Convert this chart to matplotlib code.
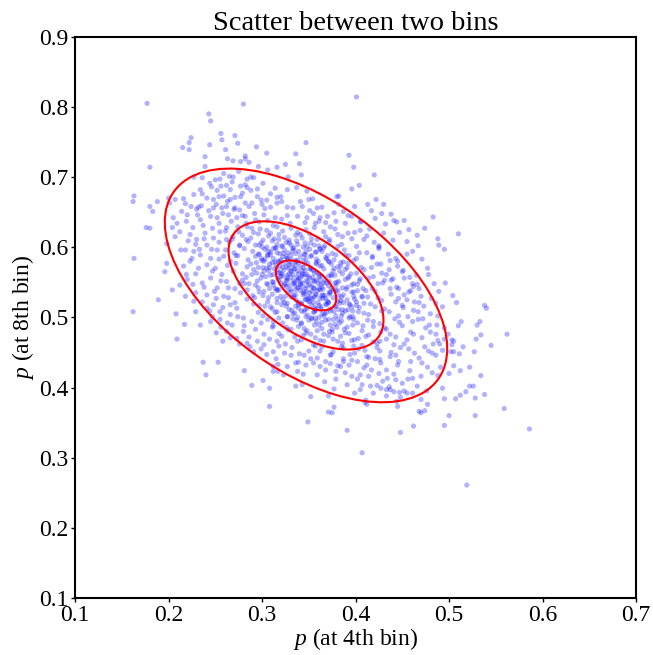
import numpy as np
import matplotlib
matplotlib.use("Agg")
import matplotlib.pyplot as plt
from matplotlib.patches import Ellipse

plt.rcParams["font.family"] = ["Liberation Serif", "DejaVu Serif"]
plt.rcParams["mathtext.fontset"] = "custom"
plt.rcParams["mathtext.it"] = "Liberation Serif:italic"
plt.rcParams["mathtext.rm"] = "Liberation Serif"

# points: (p at 4th bin, p at 8th bin)
pts_top = [
    (0.177, 0.805), (0.280, 0.804), (0.243, 0.790), (0.245, 0.780), (0.256, 0.762), (0.271, 0.759),
    (0.224, 0.756), (0.222, 0.749), (0.257, 0.753), (0.274, 0.748), (0.244, 0.746), (0.215, 0.742),
    (0.222, 0.739), (0.294, 0.743), (0.261, 0.739), (0.305, 0.734), (0.239, 0.729), (0.282, 0.730),
    (0.263, 0.726), (0.269, 0.723), (0.277, 0.722), (0.286, 0.721), (0.282, 0.726), (0.180, 0.714),
    (0.239, 0.715), (0.296, 0.715), (0.306, 0.710), (0.316, 0.714),
    (0.163, 0.673), (0.162, 0.665), (0.180, 0.658), (0.183, 0.651), (0.188, 0.665), (0.200, 0.670),
    (0.207, 0.668), (0.201, 0.663), (0.216, 0.669), (0.218, 0.662), (0.224, 0.658), (0.232, 0.657),
    (0.235, 0.659), (0.227, 0.700), (0.236, 0.699), (0.250, 0.696), (0.255, 0.697), (0.265, 0.701),
    (0.269, 0.700), (0.284, 0.697), (0.288, 0.700), (0.301, 0.691), (0.314, 0.684), (0.234, 0.682),
    (0.246, 0.686), (0.256, 0.687), (0.262, 0.688), (0.266, 0.682), (0.277, 0.687), (0.282, 0.689),
    (0.288, 0.681), (0.295, 0.672), (0.305, 0.667), (0.316, 0.671), (0.227, 0.675), (0.241, 0.670),
    (0.248, 0.668), (0.254, 0.672), (0.259, 0.673), (0.266, 0.668), (0.271, 0.671), (0.279, 0.677),
    (0.282, 0.663), (0.289, 0.663), (0.300, 0.661), (0.309, 0.657), (0.316, 0.663), (0.248, 0.656),
    (0.257, 0.656), (0.262, 0.658), (0.270, 0.654), (0.276, 0.653), (0.220, 0.646), (0.230, 0.654),
    (0.234, 0.639), (0.245, 0.644), (0.252, 0.642), (0.264, 0.646), (0.273, 0.642), (0.282, 0.644),
    (0.293, 0.639), (0.302, 0.646), (0.314, 0.642), (0.209, 0.634), (0.205, 0.642),
    (0.401, 0.814), (0.347, 0.749), (0.336, 0.733), (0.340, 0.719), (0.325, 0.718), (0.393, 0.731),
    (0.342, 0.703), (0.398, 0.714), (0.420, 0.703), (0.328, 0.700), (0.396, 0.683), (0.404, 0.688),
    (0.337, 0.685), (0.348, 0.680), (0.422, 0.668), (0.430, 0.661), (0.382, 0.673), (0.380, 0.672),
    (0.354, 0.669), (0.350, 0.668), (0.341, 0.665), (0.327, 0.682), (0.320, 0.672), (0.321, 0.665),
    (0.399, 0.658), (0.382, 0.661), (0.333, 0.656), (0.327, 0.657), (0.343, 0.658), (0.351, 0.652),
    (0.359, 0.656), (0.364, 0.657), (0.387, 0.651), (0.377, 0.649), (0.370, 0.644), (0.362, 0.642),
    (0.355, 0.648), (0.348, 0.642), (0.338, 0.644), (0.327, 0.645), (0.396, 0.644), (0.405, 0.637),
    (0.441, 0.638), (0.444, 0.636), (0.321, 0.640), (0.330, 0.634), (0.346, 0.635), (0.357, 0.634),
    (0.368, 0.635), (0.379, 0.637), (0.389, 0.634), (0.483, 0.643),
]

pts_right = [
    (0.510, 0.619), (0.488, 0.612), (0.489, 0.603), (0.495, 0.597), (0.496, 0.549), (0.489, 0.537),
    (0.504, 0.531), (0.508, 0.521), (0.493, 0.515), (0.486, 0.520), (0.538, 0.517), (0.540, 0.513),
    (0.480, 0.505), (0.513, 0.494), (0.510, 0.488), (0.533, 0.494), (0.530, 0.489), (0.487, 0.489),
    (0.562, 0.476), (0.534, 0.475), (0.495, 0.485), (0.480, 0.479), (0.499, 0.476), (0.529, 0.469),
    (0.503, 0.468), (0.505, 0.466), (0.495, 0.469), (0.488, 0.467), (0.490, 0.462), (0.545, 0.460),
    (0.515, 0.458), (0.503, 0.461), (0.493, 0.453), (0.502, 0.451), (0.505, 0.451), (0.527, 0.451),
    (0.511, 0.448), (0.482, 0.449), (0.486, 0.446),
    (0.505, 0.431), (0.522, 0.429), (0.491, 0.429), (0.482, 0.421), (0.488, 0.417), (0.500, 0.420),
    (0.512, 0.424), (0.534, 0.417), (0.522, 0.402), (0.526, 0.402), (0.493, 0.399), (0.518, 0.394),
    (0.512, 0.389), (0.538, 0.390), (0.507, 0.384), (0.495, 0.384), (0.528, 0.385), (0.559, 0.370),
    (0.500, 0.360), (0.528, 0.360), (0.495, 0.346), (0.586, 0.341), (0.519, 0.261),
    (0.457, 0.625), (0.474, 0.627), (0.467, 0.602), (0.477, 0.570), (0.462, 0.544), (0.445, 0.580),
    (0.430, 0.620), (0.440, 0.610), (0.425, 0.600), (0.455, 0.590), (0.435, 0.590), (0.450, 0.565),
    (0.440, 0.555), (0.465, 0.560), (0.470, 0.530), (0.455, 0.525), (0.462, 0.510), (0.472, 0.498),
    (0.475, 0.485),
]

pts_bottom = [
    (0.237, 0.436), (0.253, 0.436), (0.240, 0.418), (0.281, 0.424), (0.301, 0.410), (0.289, 0.403),
    (0.308, 0.399), (0.312, 0.423), (0.317, 0.423), (0.317, 0.433), (0.312, 0.430), (0.308, 0.373),
    (0.349, 0.351), (0.391, 0.339), (0.407, 0.307), (0.448, 0.336), (0.462, 0.345), (0.371, 0.365),
    (0.375, 0.364), (0.377, 0.372), (0.352, 0.387), (0.410, 0.379), (0.412, 0.376), (0.445, 0.373),
    (0.468, 0.366), (0.470, 0.364), (0.474, 0.367), (0.470, 0.383), (0.477, 0.376), (0.336, 0.402),
    (0.343, 0.404), (0.367, 0.408), (0.377, 0.398), (0.344, 0.419), (0.359, 0.418), (0.399, 0.392),
    (0.407, 0.404), (0.416, 0.402), (0.423, 0.403), (0.427, 0.399), (0.433, 0.397), (0.437, 0.397),
    (0.441, 0.394), (0.447, 0.393), (0.455, 0.392), (0.452, 0.395), (0.371, 0.388), (0.411, 0.382),
    (0.433, 0.388), (0.444, 0.380),
    (0.327, 0.430), (0.336, 0.435), (0.347, 0.432), (0.355, 0.435), (0.368, 0.425), (0.379, 0.423),
    (0.384, 0.430), (0.393, 0.432), (0.396, 0.416), (0.405, 0.418), (0.414, 0.416), (0.425, 0.420),
    (0.434, 0.413), (0.443, 0.411), (0.450, 0.406), (0.461, 0.413), (0.470, 0.416), (0.477, 0.429),
    (0.471, 0.435), (0.459, 0.437), (0.446, 0.437), (0.427, 0.435), (0.412, 0.432), (0.402, 0.437),
    (0.387, 0.437), (0.373, 0.434), (0.362, 0.430), (0.338, 0.423), (0.323, 0.418),
]

pts_left = [
    (0.163, 0.584), (0.162, 0.508), (0.176, 0.628), (0.180, 0.627), (0.189, 0.525), (0.196, 0.565),
    (0.198, 0.577), (0.204, 0.539), (0.208, 0.505), (0.217, 0.490), (0.209, 0.469), (0.207, 0.615),
    (0.213, 0.596), (0.216, 0.573), (0.220, 0.554), (0.218, 0.530), (0.227, 0.523), (0.229, 0.508),
    (0.236, 0.549), (0.234, 0.489), (0.245, 0.494), (0.251, 0.478), (0.255, 0.497), (0.262, 0.480),
    (0.268, 0.489), (0.273, 0.470), (0.280, 0.480), (0.284, 0.463), (0.291, 0.451), (0.295, 0.466),
    (0.305, 0.447), (0.302, 0.461), (0.312, 0.451), (0.316, 0.466),
    (0.223, 0.618), (0.230, 0.611), (0.239, 0.620), (0.248, 0.613), (0.255, 0.622), (0.262, 0.611),
    (0.241, 0.603), (0.252, 0.596), (0.259, 0.587), (0.266, 0.580), (0.245, 0.584), (0.234, 0.589),
    (0.227, 0.594), (0.223, 0.580), (0.232, 0.570), (0.241, 0.575), (0.250, 0.570), (0.257, 0.561),
    (0.262, 0.551), (0.245, 0.556), (0.252, 0.542), (0.259, 0.530), (0.266, 0.518), (0.241, 0.532),
    (0.248, 0.518), (0.255, 0.508), (0.266, 0.504), (0.273, 0.513), (0.280, 0.499),
]

pts_core = [
    (0.262, 0.628), (0.275, 0.622), (0.284, 0.629), (0.291, 0.621), (0.298, 0.626), (0.305, 0.624),
    (0.309, 0.620), (0.316, 0.629), (0.322, 0.623), (0.331, 0.627), (0.338, 0.621), (0.347, 0.625),
    (0.356, 0.628), (0.366, 0.622), (0.378, 0.626), (0.392, 0.620), (0.405, 0.624),
    (0.268, 0.611), (0.279, 0.617), (0.288, 0.613), (0.296, 0.619), (0.301, 0.610), (0.307, 0.616),
    (0.313, 0.612), (0.318, 0.618), (0.324, 0.614), (0.329, 0.610), (0.336, 0.617), (0.343, 0.613),
    (0.351, 0.619), (0.359, 0.611), (0.368, 0.615), (0.381, 0.618), (0.396, 0.612), (0.412, 0.616),
    (0.265, 0.607), (0.276, 0.602), (0.285, 0.608), (0.293, 0.603), (0.299, 0.606), (0.305, 0.600),
    (0.311, 0.609), (0.316, 0.604), (0.321, 0.601), (0.326, 0.607), (0.331, 0.603), (0.337, 0.609),
    (0.344, 0.600), (0.352, 0.606), (0.361, 0.602), (0.372, 0.608), (0.385, 0.604), (0.401, 0.601),
    (0.420, 0.607),
    (0.270, 0.592), (0.281, 0.598), (0.290, 0.594), (0.297, 0.590), (0.303, 0.597), (0.309, 0.593),
    (0.314, 0.599), (0.319, 0.591), (0.324, 0.596), (0.328, 0.592), (0.333, 0.598), (0.339, 0.594),
    (0.345, 0.590), (0.351, 0.597), (0.358, 0.593), (0.366, 0.599), (0.375, 0.591), (0.388, 0.596),
    (0.404, 0.592), (0.425, 0.598),
    (0.274, 0.588), (0.285, 0.582), (0.293, 0.587), (0.300, 0.581), (0.306, 0.589), (0.312, 0.584),
    (0.317, 0.580), (0.322, 0.586), (0.327, 0.583), (0.331, 0.589), (0.336, 0.581), (0.341, 0.587),
    (0.347, 0.583), (0.353, 0.588), (0.360, 0.580), (0.368, 0.585), (0.377, 0.582), (0.389, 0.589),
    (0.401, 0.584), (0.418, 0.587), (0.437, 0.581),
    (0.272, 0.577), (0.284, 0.572), (0.294, 0.578), (0.301, 0.571), (0.308, 0.576), (0.314, 0.579),
    (0.319, 0.573), (0.324, 0.577), (0.328, 0.570), (0.332, 0.575), (0.336, 0.579), (0.341, 0.572),
    (0.346, 0.576), (0.352, 0.571), (0.358, 0.578), (0.364, 0.574), (0.372, 0.579), (0.381, 0.572),
    (0.392, 0.577), (0.406, 0.571), (0.423, 0.576), (0.445, 0.573),
    (0.279, 0.562), (0.291, 0.568), (0.300, 0.561), (0.307, 0.566), (0.313, 0.569), (0.318, 0.563),
    (0.323, 0.567), (0.327, 0.560), (0.331, 0.565), (0.335, 0.569), (0.339, 0.562), (0.343, 0.566),
    (0.348, 0.561), (0.353, 0.568), (0.359, 0.564), (0.366, 0.569), (0.374, 0.561), (0.383, 0.566),
    (0.395, 0.562), (0.409, 0.568), (0.428, 0.563), (0.451, 0.567),
    (0.283, 0.557), (0.295, 0.552), (0.304, 0.558), (0.311, 0.551), (0.317, 0.556), (0.322, 0.559),
    (0.327, 0.553), (0.331, 0.557), (0.335, 0.550), (0.339, 0.555), (0.343, 0.559), (0.347, 0.552),
    (0.351, 0.556), (0.356, 0.551), (0.361, 0.558), (0.367, 0.553), (0.374, 0.559), (0.382, 0.551),
    (0.392, 0.556), (0.404, 0.552), (0.419, 0.558), (0.438, 0.553), (0.458, 0.557),
    (0.281, 0.548), (0.296, 0.542), (0.306, 0.547), (0.314, 0.541), (0.320, 0.549), (0.326, 0.544),
    (0.331, 0.540), (0.335, 0.546), (0.339, 0.543), (0.343, 0.549), (0.347, 0.541), (0.351, 0.547),
    (0.355, 0.542), (0.360, 0.548), (0.365, 0.540), (0.371, 0.545), (0.378, 0.549), (0.386, 0.542),
    (0.396, 0.546), (0.408, 0.541), (0.424, 0.548), (0.444, 0.543), (0.466, 0.547),
    (0.290, 0.531), (0.302, 0.537), (0.311, 0.533), (0.318, 0.539), (0.325, 0.530), (0.331, 0.536),
    (0.336, 0.532), (0.341, 0.538), (0.345, 0.534), (0.349, 0.530), (0.353, 0.537), (0.357, 0.533),
    (0.362, 0.539), (0.367, 0.531), (0.373, 0.535), (0.379, 0.538), (0.387, 0.532), (0.396, 0.536),
    (0.407, 0.530), (0.421, 0.537), (0.438, 0.533), (0.459, 0.538),
    (0.292, 0.528), (0.306, 0.522), (0.316, 0.527), (0.324, 0.521), (0.331, 0.529), (0.337, 0.524),
    (0.342, 0.520), (0.347, 0.526), (0.351, 0.523), (0.356, 0.529), (0.360, 0.521), (0.365, 0.527),
    (0.370, 0.523), (0.376, 0.528), (0.383, 0.520), (0.391, 0.525), (0.401, 0.522), (0.413, 0.529),
    (0.428, 0.524), (0.446, 0.527), (0.468, 0.521),
    (0.297, 0.517), (0.311, 0.512), (0.321, 0.518), (0.329, 0.511), (0.336, 0.516), (0.342, 0.519),
    (0.348, 0.513), (0.353, 0.517), (0.358, 0.510), (0.363, 0.515), (0.368, 0.519), (0.373, 0.512),
    (0.379, 0.516), (0.386, 0.511), (0.394, 0.518), (0.404, 0.514), (0.416, 0.519), (0.431, 0.512),
    (0.450, 0.517),
    (0.301, 0.502), (0.316, 0.508), (0.327, 0.501), (0.335, 0.506), (0.342, 0.509), (0.349, 0.503),
    (0.355, 0.507), (0.361, 0.500), (0.367, 0.505), (0.373, 0.509), (0.379, 0.502), (0.386, 0.506),
    (0.394, 0.501), (0.403, 0.508), (0.414, 0.504), (0.428, 0.509), (0.446, 0.502),
    (0.306, 0.497), (0.322, 0.492), (0.333, 0.498), (0.342, 0.491), (0.350, 0.496), (0.357, 0.499),
    (0.364, 0.493), (0.371, 0.497), (0.378, 0.490), (0.385, 0.495), (0.393, 0.499), (0.402, 0.492),
    (0.413, 0.496), (0.426, 0.491), (0.442, 0.498), (0.461, 0.494),
    (0.312, 0.488), (0.328, 0.482), (0.339, 0.487), (0.348, 0.481), (0.356, 0.489), (0.364, 0.484),
    (0.372, 0.480), (0.380, 0.486), (0.388, 0.483), (0.397, 0.489), (0.407, 0.481), (0.419, 0.487),
    (0.433, 0.483), (0.450, 0.488),
    (0.318, 0.477), (0.335, 0.472), (0.347, 0.478), (0.357, 0.471), (0.366, 0.476), (0.375, 0.479),
    (0.384, 0.473), (0.393, 0.477), (0.403, 0.470), (0.414, 0.475), (0.427, 0.479), (0.443, 0.472),
    (0.462, 0.476),
    (0.325, 0.462), (0.342, 0.468), (0.355, 0.461), (0.366, 0.466), (0.376, 0.469), (0.386, 0.463),
    (0.396, 0.467), (0.407, 0.460), (0.419, 0.465), (0.433, 0.469), (0.452, 0.462),
    (0.332, 0.457), (0.350, 0.452), (0.364, 0.458), (0.376, 0.451), (0.387, 0.456), (0.398, 0.459),
    (0.410, 0.453), (0.423, 0.457), (0.438, 0.450), (0.457, 0.455),
    (0.340, 0.448), (0.359, 0.442), (0.374, 0.447), (0.387, 0.441), (0.399, 0.449), (0.412, 0.444),
    (0.426, 0.440), (0.443, 0.446),
]

pts_inner = [
    (0.300, 0.600), (0.312, 0.598), (0.322, 0.602), (0.334, 0.599), (0.348, 0.601), (0.362, 0.597),
    (0.296, 0.590), (0.306, 0.588), (0.316, 0.592), (0.326, 0.587), (0.336, 0.591), (0.346, 0.589),
    (0.357, 0.593), (0.370, 0.588),
    (0.302, 0.580), (0.311, 0.578), (0.320, 0.582), (0.329, 0.579), (0.338, 0.581), (0.349, 0.577),
    (0.358, 0.583), (0.371, 0.580), (0.384, 0.578),
    (0.305, 0.570), (0.316, 0.568), (0.326, 0.572), (0.334, 0.569), (0.344, 0.571), (0.355, 0.567),
    (0.362, 0.573), (0.377, 0.570), (0.389, 0.568),
    (0.309, 0.560), (0.320, 0.558), (0.329, 0.562), (0.337, 0.557), (0.345, 0.561), (0.356, 0.563),
    (0.364, 0.559), (0.378, 0.560), (0.393, 0.558),
    (0.312, 0.550), (0.324, 0.548), (0.333, 0.552), (0.341, 0.547), (0.349, 0.551), (0.358, 0.553),
    (0.369, 0.549), (0.380, 0.550), (0.398, 0.548),
    (0.316, 0.540), (0.328, 0.538), (0.338, 0.542), (0.347, 0.537), (0.356, 0.541), (0.364, 0.543),
    (0.376, 0.539), (0.390, 0.540), (0.402, 0.538),
    (0.320, 0.530), (0.334, 0.528), (0.344, 0.532), (0.354, 0.527), (0.364, 0.531), (0.372, 0.533),
    (0.385, 0.529), (0.398, 0.530),
    (0.327, 0.520), (0.339, 0.518), (0.350, 0.522), (0.361, 0.517), (0.371, 0.521), (0.381, 0.523),
    (0.393, 0.519), (0.409, 0.520),
    (0.332, 0.510), (0.345, 0.508), (0.357, 0.512), (0.369, 0.507), (0.382, 0.511), (0.397, 0.509),
    (0.338, 0.500), (0.353, 0.498), (0.366, 0.502), (0.381, 0.497), (0.397, 0.501),
]

pts_fill = [
    # upper left inside the outer ring
    (0.214, 0.651), (0.219, 0.637), (0.226, 0.628), (0.231, 0.646), (0.237, 0.631), (0.243, 0.652),
    (0.247, 0.627), (0.251, 0.661), (0.254, 0.634), (0.258, 0.648), (0.261, 0.623), (0.263, 0.665),
    (0.267, 0.637), (0.271, 0.656), (0.274, 0.629), (0.277, 0.672), (0.279, 0.645), (0.283, 0.634),
    (0.286, 0.658), (0.289, 0.627), (0.292, 0.648), (0.295, 0.683), (0.297, 0.636), (0.299, 0.667),
    (0.303, 0.655), (0.306, 0.638), (0.309, 0.676), (0.312, 0.631), (0.236, 0.676), (0.244, 0.691),
    (0.252, 0.681), (0.259, 0.705), (0.268, 0.693), (0.275, 0.708), (0.284, 0.685), (0.291, 0.699),
    (0.229, 0.604), (0.238, 0.612), (0.246, 0.597), (0.254, 0.607), (0.261, 0.596), (0.269, 0.615),
    (0.276, 0.603), (0.283, 0.611), (0.218, 0.596), (0.225, 0.584), (0.233, 0.597), (0.272, 0.588),
    (0.263, 0.574), (0.254, 0.583), (0.229, 0.562), (0.238, 0.543), (0.247, 0.566), (0.256, 0.552),
    (0.269, 0.566), (0.276, 0.548), (0.221, 0.609), (0.212, 0.622), (0.204, 0.628), (0.198, 0.605),
    # core
    (0.297, 0.603), (0.318, 0.611), (0.333, 0.595), (0.341, 0.618), (0.356, 0.603), (0.372, 0.611),
    (0.309, 0.589), (0.327, 0.584), (0.352, 0.587), (0.364, 0.594), (0.381, 0.601), (0.393, 0.588),
    (0.288, 0.576), (0.303, 0.583), (0.315, 0.574), (0.323, 0.591), (0.339, 0.578), (0.347, 0.594),
    (0.358, 0.576), (0.369, 0.583), (0.384, 0.573), (0.398, 0.581), (0.412, 0.592), (0.294, 0.563),
    (0.308, 0.571), (0.321, 0.562), (0.329, 0.575), (0.338, 0.566), (0.344, 0.581), (0.351, 0.569),
    (0.361, 0.561), (0.376, 0.566), (0.387, 0.579), (0.401, 0.563), (0.417, 0.571), (0.433, 0.561),
    (0.286, 0.548), (0.299, 0.556), (0.312, 0.546), (0.319, 0.564), (0.326, 0.553), (0.333, 0.561),
    (0.341, 0.549), (0.346, 0.567), (0.354, 0.557), (0.363, 0.547), (0.371, 0.559), (0.379, 0.545),
    (0.389, 0.554), (0.402, 0.547), (0.414, 0.556), (0.429, 0.549), (0.297, 0.536), (0.307, 0.528),
    (0.316, 0.538), (0.322, 0.525), (0.329, 0.546), (0.334, 0.531), (0.338, 0.553), (0.344, 0.536),
    (0.349, 0.526), (0.353, 0.544), (0.358, 0.532), (0.362, 0.553), (0.368, 0.527), (0.374, 0.541),
    (0.382, 0.531), (0.391, 0.543), (0.399, 0.526), (0.411, 0.538), (0.424, 0.528), (0.437, 0.541),
    (0.452, 0.532), (0.303, 0.516), (0.314, 0.507), (0.326, 0.516), (0.333, 0.505), (0.339, 0.521),
    (0.346, 0.511), (0.352, 0.528), (0.357, 0.514), (0.364, 0.505), (0.369, 0.518), (0.377, 0.508),
    (0.384, 0.524), (0.392, 0.511), (0.401, 0.517), (0.409, 0.506), (0.421, 0.515), (0.436, 0.508),
    (0.312, 0.494), (0.326, 0.486), (0.337, 0.496), (0.345, 0.484), (0.353, 0.499), (0.361, 0.489),
    (0.368, 0.496), (0.375, 0.483), (0.383, 0.492), (0.391, 0.486), (0.398, 0.497), (0.408, 0.488),
    (0.419, 0.494), (0.431, 0.485), (0.447, 0.493), (0.321, 0.473), (0.338, 0.466), (0.352, 0.476),
    (0.362, 0.467), (0.371, 0.474), (0.381, 0.466), (0.389, 0.478), (0.399, 0.468), (0.411, 0.473),
    (0.423, 0.463), (0.437, 0.476), (0.455, 0.468),
    (0.322, 0.571), (0.331, 0.567), (0.336, 0.574), (0.343, 0.562), (0.349, 0.558), (0.327, 0.556),
    (0.334, 0.548), (0.341, 0.556), (0.348, 0.545), (0.355, 0.552), (0.361, 0.541), (0.366, 0.549),
    (0.336, 0.539), (0.343, 0.543), (0.351, 0.535), (0.359, 0.538), (0.365, 0.532), (0.372, 0.536),
    (0.346, 0.525), (0.355, 0.521), (0.362, 0.527), (0.371, 0.521), (0.378, 0.515), (0.331, 0.583),
    (0.319, 0.579), (0.324, 0.546), (0.318, 0.553), (0.372, 0.551), (0.381, 0.538), (0.387, 0.521),
    (0.356, 0.508), (0.363, 0.512), (0.347, 0.501), (0.339, 0.513), (0.312, 0.561), (0.305, 0.548),
    (0.296, 0.571), (0.307, 0.594), (0.338, 0.604), (0.353, 0.612), (0.367, 0.602), (0.379, 0.589),
    (0.391, 0.571), (0.405, 0.555), (0.418, 0.541), (0.407, 0.529), (0.396, 0.515), (0.385, 0.502),
    (0.373, 0.489), (0.359, 0.481), (0.344, 0.474), (0.331, 0.483), (0.318, 0.499), (0.309, 0.515),
    (0.301, 0.531), (0.293, 0.546), (0.289, 0.561), (0.299, 0.584), (0.315, 0.599), (0.329, 0.606),
    (0.346, 0.606), (0.362, 0.598), (0.374, 0.576), (0.386, 0.562), (0.398, 0.536), (0.389, 0.509),
    (0.376, 0.497), (0.358, 0.494), (0.342, 0.492), (0.327, 0.501), (0.316, 0.521), (0.308, 0.541),
    (0.302, 0.566),
    # lower right
    (0.362, 0.452), (0.373, 0.446), (0.385, 0.458), (0.394, 0.447), (0.403, 0.455), (0.414, 0.443),
    (0.426, 0.452), (0.437, 0.444), (0.448, 0.457), (0.463, 0.449), (0.474, 0.458), (0.352, 0.441),
    (0.368, 0.437), (0.381, 0.431), (0.396, 0.439), (0.409, 0.428), (0.421, 0.441), (0.433, 0.425),
    (0.445, 0.432), (0.458, 0.424), (0.468, 0.442), (0.478, 0.452), (0.389, 0.421), (0.402, 0.412),
    (0.417, 0.425), (0.429, 0.409), (0.441, 0.419), (0.456, 0.412), (0.466, 0.402), (0.476, 0.395),
    (0.379, 0.412), (0.391, 0.404), (0.405, 0.397), (0.419, 0.392), (0.436, 0.401), (0.448, 0.386),
    (0.461, 0.392), (0.345, 0.446), (0.357, 0.459), (0.331, 0.446), (0.339, 0.436), (0.426, 0.466),
    (0.441, 0.461), (0.459, 0.479), (0.471, 0.471), (0.483, 0.462), (0.486, 0.476), (0.479, 0.489),
    (0.467, 0.497), (0.456, 0.501),
    # right
    (0.418, 0.585), (0.427, 0.576), (0.436, 0.568), (0.443, 0.584), (0.452, 0.556), (0.461, 0.548),
    (0.446, 0.541), (0.457, 0.536), (0.468, 0.541), (0.431, 0.553), (0.425, 0.602), (0.409, 0.611),
    (0.399, 0.621), (0.386, 0.615), (0.415, 0.626), (0.421, 0.641), (0.432, 0.633), (0.447, 0.621),
    (0.455, 0.608), (0.461, 0.594), (0.471, 0.583), (0.478, 0.561), (0.484, 0.548), (0.473, 0.516),
    (0.463, 0.522), (0.451, 0.514), (0.443, 0.522), (0.481, 0.527), (0.488, 0.502), (0.467, 0.508),
    (0.406, 0.636), (0.392, 0.645), (0.373, 0.629), (0.361, 0.637), (0.417, 0.652), (0.438, 0.647),
    (0.452, 0.638), (0.466, 0.617), (0.413, 0.661), (0.428, 0.648),
    # lower left
    (0.236, 0.522), (0.244, 0.509), (0.251, 0.527), (0.258, 0.514), (0.264, 0.528), (0.271, 0.521),
    (0.277, 0.535), (0.284, 0.526), (0.291, 0.519), (0.296, 0.507), (0.289, 0.494), (0.281, 0.488),
    (0.274, 0.501), (0.263, 0.492), (0.256, 0.486), (0.247, 0.501), (0.241, 0.513), (0.286, 0.472),
    (0.293, 0.483), (0.302, 0.476), (0.299, 0.492), (0.308, 0.469), (0.311, 0.486), (0.318, 0.459),
    (0.324, 0.449), (0.315, 0.441), (0.299, 0.455), (0.287, 0.458), (0.276, 0.462), (0.266, 0.471),
    (0.258, 0.466), (0.271, 0.541), (0.279, 0.553), (0.284, 0.539), (0.229, 0.535), (0.264, 0.542),
    (0.249, 0.537), (0.226, 0.547), (0.219, 0.561), (0.212, 0.546),
]

# fitted gaussian and the confidence levels of the contours
mean = [0.347, 0.5455]
sd = [0.0704, 0.0776]
rho = -0.54
levels = [0.1, 0.5, 0.9]

pts = np.array(pts_top + pts_right + pts_bottom + pts_left + pts_core + pts_inner + pts_fill)

fig = plt.figure(figsize=(6.53, 6.55), dpi=100)
ax = fig.add_axes([0.115, 0.087, 0.859, 0.857])

ax.scatter(pts[:, 0], pts[:, 1], s=14, color="blue", alpha=0.3, edgecolors="none")

cov = np.array([[sd[0] ** 2, rho * sd[0] * sd[1]],
                [rho * sd[0] * sd[1], sd[1] ** 2]])
vals, vecs = np.linalg.eigh(cov)
angle = np.degrees(np.arctan2(vecs[1, 1], vecs[0, 1]))
for p in levels:
    k = np.sqrt(-2 * np.log(1 - p))
    ell = Ellipse(mean, 2 * k * np.sqrt(vals[1]), 2 * k * np.sqrt(vals[0]),
                  angle=angle, fill=False, edgecolor="red", linewidth=1.5)
    ax.add_patch(ell)

ax.set_xlim(0.1, 0.7)
ax.set_ylim(0.1, 0.9)
ax.set_xticks(np.arange(0.1, 0.71, 0.1))
ax.set_yticks(np.arange(0.1, 0.91, 0.1))
ax.set_xticklabels([f"{v:.1f}" for v in np.arange(0.1, 0.71, 0.1)])
ax.set_yticklabels([f"{v:.1f}" for v in np.arange(0.1, 0.91, 0.1)])
ax.tick_params(labelsize=17, direction="out", length=3, width=1, pad=2)
for s in ax.spines.values():
    s.set_linewidth(1.5)

ax.set_xlabel(r"$p$ (at 4th bin)", fontsize=17, labelpad=0)
ax.set_ylabel(r"$p$ (at 8th bin)", fontsize=17, labelpad=2)
ax.set_title("Scatter between two bins", fontsize=20.5, pad=5)

fig.savefig("out.png", dpi=100)
